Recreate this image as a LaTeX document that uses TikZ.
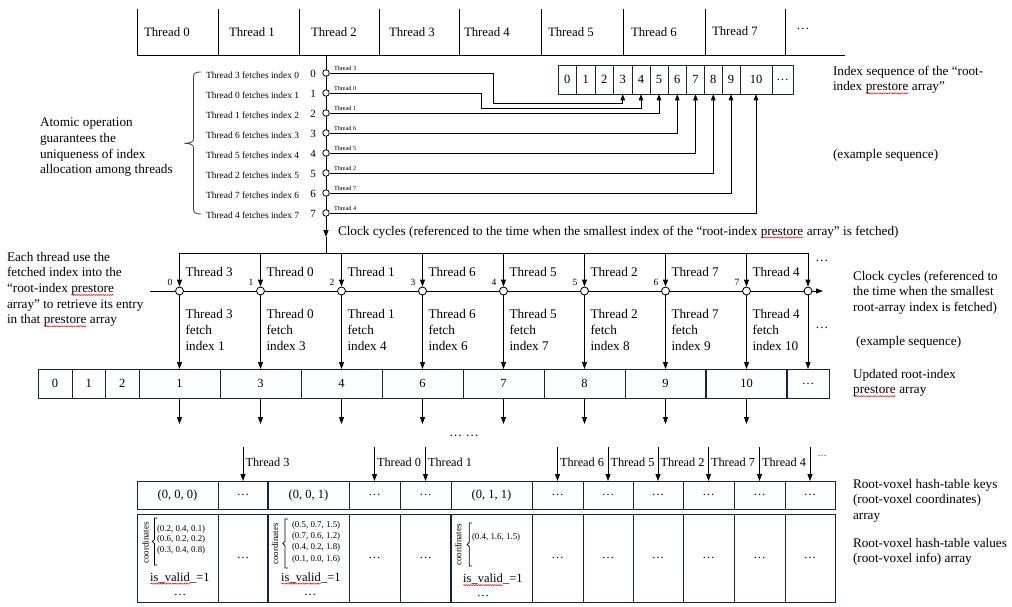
\documentclass[tikz,border=0pt]{standalone}
\usepackage{fontspec}
\setmainfont{Liberation Serif}
\usetikzlibrary{arrows.meta,decorations.pathmorphing}
\definecolor{boxc}{HTML}{14263A}
% red wavy underline as left by a spell checker
\newcommand\redwave[1]{\tikz[baseline=(rw.base),x=1pt,y=1pt]{\node[inner sep=0pt,outer sep=0pt,align=none](rw){#1};%
  \draw[red,line width=0.45pt,decorate,decoration={snake,amplitude=0.6pt,segment length=2.4pt}]
    ([yshift=-2.4pt]rw.base west) -- ([yshift=-2.4pt]rw.base east);}}
\newcommand\fsmain{\fontsize{13.2pt}{15.7pt}\selectfont}
\newcommand\fscell{\fontsize{12.5pt}{14pt}\selectfont}
\newcommand\fslab{\fontsize{12.3pt}{14pt}\selectfont}
\newcommand\fslist{\fontsize{9.4pt}{11pt}\selectfont}
\newcommand\fstiny{\fontsize{6.2pt}{7pt}\selectfont}
\newcommand\fsdigit{\fontsize{9.5pt}{10pt}\selectfont}
\newcommand\fsrot{\fontsize{9pt}{9pt}\selectfont}
% small square bracket with a notch: x, top, bottom, arm
\newcommand\wordbrace[4]{%
  \draw[line width=0.75pt] ({#1+#4},#2) -- (#1,#2) -- (#1,{(#2+#3)/2-2}) -- ({#1-2.2},{(#2+#3)/2}) -- (#1,{(#2+#3)/2+2}) -- (#1,#3) -- ({#1+#4},#3);}
\begin{document}
\begin{tikzpicture}[x=1pt,y=-1pt,
  ln/.style={line width=0.85pt},
  arr/.style={line width=0.85pt,-{Triangle[length=7pt,width=5pt]}},
  sarr/.style={line width=0.75pt,-{Triangle[length=6pt,width=4.6pt]}},
  fdot/.style={circle,draw,fill=white,line width=0.8pt,inner sep=0pt,minimum size=6.5pt},
  cdot/.style={circle,draw,fill=white,line width=0.85pt,inner sep=0pt,minimum size=8pt},
  txt/.style={inner sep=0pt,outer sep=0pt,font=\fsmain,align=left},
  acell/.style={draw=boxc,line width=0.9pt,inner sep=0pt,outer sep=0pt,anchor=west,font=\fscell},
  thick cut/.style={draw=boxc,line width=1.7pt}]
\useasboundingbox (0,0) rectangle (1012,607);

% ---------- thread table ----------
\draw[ln] (137,55) -- (845,55);
\foreach \x in {137,218,299,379,459,541,623,705,785} \draw[ln] (\x,9) -- (\x,55);
\foreach \t/\x/\y in {0/144/32,1/229/32,2/311/32,3/389/32,4/464/32,5/548/32,6/631/32,7/712/31}
  \node[txt,font=\fontsize{12.8pt}{14pt}\selectfont,anchor=west] (top\t) at (\x,\y) {Thread \t};
\node[txt,anchor=center] (topd) at (803,29) {…};

% ---------- atomic fetch timeline ----------
\coordinate (tl0) at (326,55);
\coordinate (tl1) at (326,237);
\coordinate (tl2) at (326,253);
\draw[arr] (tl0) -- (tl1);
\draw[ln] (tl1) -- (tl2);

% index sequence array
\foreach \n/\a/\b/\t in {0/558/576.5/0,1/576.5/595/1,2/595/613.5/2,3/613.5/632/3,4/632/650/4,5/650/668/5,
  6/668/686.5/6,7/686.5/704.5/7,8/704.5/722/8,9/722/740/9,10/740/772/10,11/772/793/…}
  \node[acell,minimum width={\b-\a},minimum height=29.3pt] (ia\n) at (\a,79.65) {\t};

\foreach \i/\t in {0/3,1/0,2/1,3/6,4/5,5/2,6/7,7/4} {
  \node[fdot] (f\i) at (326,{73+20*\i}) {};
  \node[txt,font=\fslist,anchor=east] (fl\i) at (299,{75+20*\i}) {Thread \t\ fetches index \i};
  \node[txt,font=\fontsize{11pt}{12pt}\selectfont,anchor=center] (fn\i) at (313,{74+20*\i}) {\i};
  \node[txt,font=\fstiny,anchor=south west] (tlab\i) at (334,{71+20*\i}) {Thread \t};
}
\coordinate (bend0) at (493,103);
\coordinate (bend1) at (481,108.3);
\draw[sarr] (f0.east) -| (bend0) -| (ia3.south);
\draw[sarr] (f1.east) -| (bend1) -| (ia4.south);
\foreach \i/\c in {2/5,3/6,4/7,5/8,6/9,7/10} \draw[sarr] (f\i.east) -| (ia\c.south);

\draw[line width=0.8pt,black!75] (201,72) .. controls (196,72) and (193.5,73) .. (193.5,77) -- (193.5,139)
  .. controls (193.5,142) and (190,143.3) .. (184.5,143.3) .. controls (190,143.3) and (193.5,144.6) .. (193.5,147.6)
  -- (193.5,209) .. controls (193.5,213) and (196,214) .. (201,214);

\node[txt,anchor=north west] (atomic) at (40,118) {Atomic operation\\guarantees the\\uniqueness of index\\allocation among threads};

\node[txt,anchor=west] (clk) at (338,232) {Clock cycles (referenced to the time when the smallest index of the “root-index \redwave{prestore} array” is fetched)};

% ---------- updated root-index prestore array ----------
\foreach \n/\a/\b/\t in {0/38/72/0,1/72/105.5/1,2/105.5/139/2,3/139/220/1,4/220/301/3,5/301/382/4,
  6/382/463/6,7/463/544/7,8/544/625/8,9/625/706/9,10/706/787/10,11/787/829/…}
  \node[acell,minimum width={\b-\a},minimum height=29pt] (u\n) at (\a,383.5) {\t};
\draw[thick cut] (u9.north east) -- (u9.south east);
\draw[thick cut] (u10.north east) -- (u10.south east);

% ---------- clock cycle row ----------
\coordinate (ax0) at (150,291);
\coordinate (ax1) at (823,291);
\draw[arr] (ax0) -- (ax1);
\coordinate (ct8) at (808,253);
\draw[ln] (179.5,253) -- (ct8);
\foreach \i/\x/\t/\k in {0/179.5/3/1,1/260.5/0/3,2/341.5/1/4,3/422.5/6/6,4/503.5/5/7,5/584.5/2/8,6/665.5/7/9,7/746.5/4/10} {
  \coordinate (ct\i) at (\x,253);
  \node[cdot] (cd\i) at (\x,291) {};
  \node[txt,font=\fsdigit,anchor=center] (cn\i) at ({\x-9.5},282) {\i};
  \node[txt,anchor=west] (ctl\i) at ({\x+6},272) {Thread \t};
  \node[txt,anchor=north west] (cfl\i) at ({\x+6},309.5) {Thread \t\\fetch\\index \k};
  \draw[arr] (ct\i) -- (cd\i.north);
  \pgfmathtruncatemacro\q{\i+3}
  \draw[arr] (cd\i.south) -- (u\q.north);
}
\node[cdot] (cd8) at (808,291) {};
\draw[arr] (ct8) -- (cd8.north);
\draw[arr] (cd8.south) -- (u11.north);
\node[txt,anchor=center] (cdots1) at (822,261) {…};
\node[txt,anchor=center] (cdots2) at (822,328) {…};

\node[txt,anchor=north west] (each) at (7,252) {Each thread use the\\fetched index into the\\“root-index \redwave{prestore}\\array” to retrieve its entry\\in that \redwave{prestore} array};

% arrows out of the updated array
\coordinate (lev) at (0,424);
\foreach \q in {3,...,10} {
  \coordinate (ud\q) at (u\q.south |- lev);
  \draw[arr] (u\q.south) -- (ud\q);
}
\node[txt,anchor=center] (gap) at (464,436) {… …};

% ---------- root-voxel hash table ----------
\foreach \n/\a/\b/\t in {0/137/218/{(0, 0, 0)},1/218/268/…,2/268/349/{(0, 0, 1)},3/349/400/…,4/400/451/…,
  5/451/532/{(0, 1, 1)},6/532/583/…,7/583/633/…,8/633/683/…,9/683/734/…,10/734/785/…,11/785/835/…} {
  \node[acell,minimum width={\b-\a},minimum height=28pt] (k\n) at (\a,495) {\t};
  \node[acell,minimum width={\b-\a},minimum height=88pt] (v\n) at (\a,558) {};
}
\draw[thick cut] (k1.north east) -- (k1.south east);
\draw[thick cut] (v1.north east) -- (v1.south east);
\draw[thick cut] (v4.north east) -- (v4.south east);
\foreach \n in {1,3,4,6,7,8,9,10,11} \node[txt,font=\fscell,anchor=center] (vd\n) at (v\n) {…};

\coordinate (ltop) at (0,447);
\coordinate (ltxt) at (0,462);
\foreach \n/\t in {1/3,3/0,4/1,6/6,7/5,8/2,9/7,10/4} {
  \coordinate (ka\n) at (k\n.north |- ltop);
  \draw[arr] (ka\n) -- (k\n.north);
  \node[txt,font=\fslab,anchor=west,xshift=2.5pt] (kl\n) at (k\n.north |- ltxt) {Thread \t};
}
\coordinate (ka11) at (k11.north |- ltop);
\draw[arr] (ka11) -- (k11.north);
\node[txt,anchor=center,font=\fontsize{9pt}{10pt}\selectfont] (kdots) at (822,456) {…};

% value cell contents
\node[txt,font=\fsrot,rotate=90,anchor=center] (v0r) at (145.5,543) {coordinates};
\wordbrace{154.5}{518}{565}{2.8}
\node[txt,font=\fontsize{8.9pt}{10.6pt}\selectfont,anchor=north west] (v0c) at (157,525) {(0.2, 0.4, 0.1)\\(0.6, 0.2, 0.2)\\(0.3, 0.4, 0.8)};
\node[txt,font=\fscell,anchor=west] (v0i) at (150,578.5) {\redwave{is\_valid}\_=1};
\node[txt,font=\fscell,anchor=center] (v0d) at (180,595) {…};

\node[txt,font=\fsrot,rotate=90,anchor=center] (v2r) at (275,544) {coordinates};
\wordbrace{285}{519}{568}{2.8}
\node[txt,font=\fontsize{8.9pt}{11.4pt}\selectfont,anchor=north west] (v2c) at (292,521) {(0.5, 0.7, 1.5)\\(0.7, 0.6, 1.2)\\(0.4, 0.2, 1.8)\\(0.1, 0.0, 1.6)};
\node[txt,font=\fscell,anchor=west] (v2i) at (281,578.5) {\redwave{is\_valid}\_=1};
\node[txt,font=\fscell,anchor=center] (v2d) at (310,595) {…};

\node[txt,font=\fsrot,rotate=90,anchor=center] (v5r) at (458.3,545) {coordinates};
\wordbrace{469.3}{523}{566}{2.8}
\node[txt,font=\fontsize{8.9pt}{10pt}\selectfont,anchor=west] (v5c) at (472,537) {(0.4, 1.6, 1.5)};
\node[txt,font=\fscell,anchor=west] (v5i) at (463,580) {\redwave{is\_valid}\_=1};
\node[txt,font=\fscell,anchor=center] (v5d) at (483,596) {…};

% ---------- side captions ----------
\node[txt,anchor=north west] (r1) at (833,66) {Index sequence of the “root-\\index \redwave{prestore} array”};
\node[txt,anchor=west] (r2) at (833,155) {(example sequence)};
\node[txt,anchor=north west] (r3) at (853,271) {Clock cycles (referenced to\\the time when the smallest\\root-array index is fetched)};
\node[txt,anchor=west] (r4) at (856,342) {(example sequence)};
\node[txt,anchor=north west] (r5) at (853,369) {Updated root-index\\\redwave{prestore} array};
\node[txt,anchor=north west] (r6) at (853,479) {Root-voxel hash-table keys\\(root-voxel coordinates)\\array};
\node[txt,anchor=north west] (r7) at (853,538) {Root-voxel hash-table values\\(root-voxel info) array};
\end{tikzpicture}
\end{document}
